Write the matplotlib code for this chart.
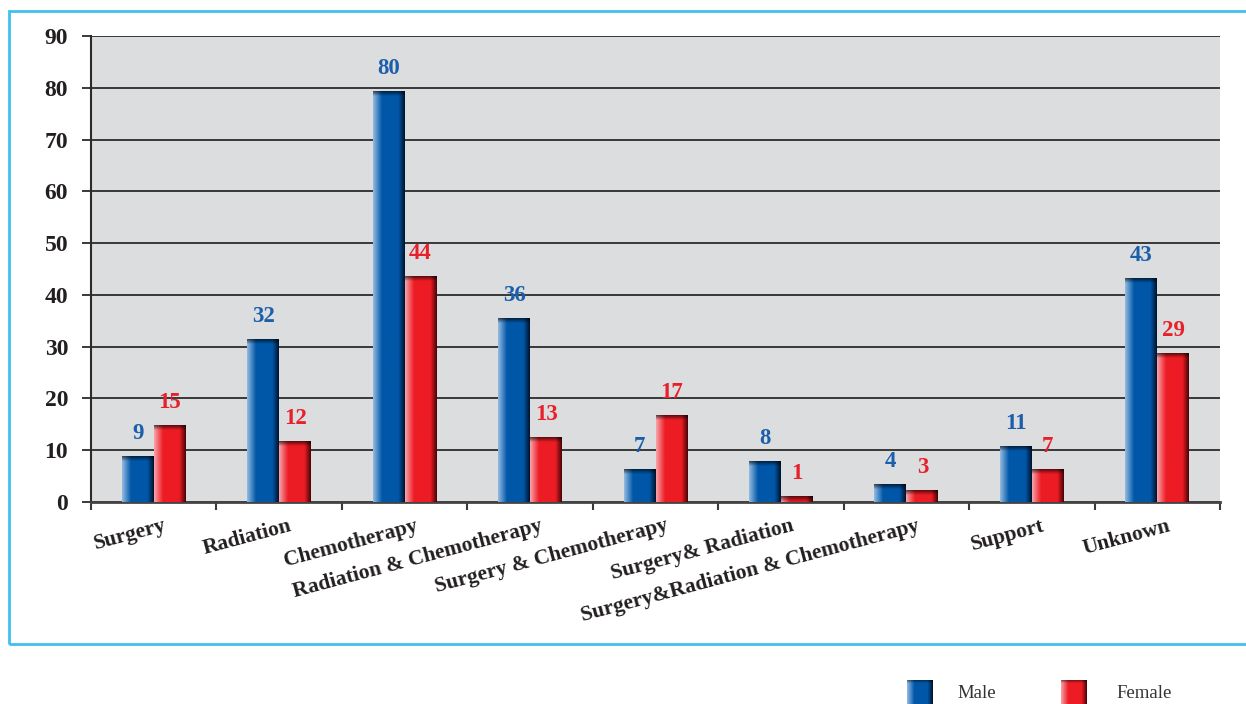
import numpy as np
import matplotlib.pyplot as plt
from matplotlib.colors import to_rgb
from matplotlib.patches import Rectangle
from matplotlib.transforms import ScaledTranslation

# data
categories = ["Surgery", "Radiation", "Chemotherapy", "Radiation & Chemotherapy",
              "Surgery & Chemotherapy", "Surgery& Radiation",
              "Surgery&Radiation & Chemotherapy", "Support", "Unknown"]
male = [8.7, 31.3, 79.2, 35.5, 6.2, 7.9, 3.3, 10.8, 43.1]
female = [14.7, 11.6, 43.6, 12.5, 16.8, 1.0, 2.3, 6.2, 28.6]
male_labels = ["9", "32", "80", "36", "7", "8", "4", "11", "43"]
female_labels = ["15", "12", "44", "13", "17", "1", "3", "7", "29"]
yticks = [0, 10, 20, 30, 40, 50, 60, 70, 80, 90]

SERIF = "Liberation Serif"
blue = ("#93bbe2", "#0057a8", "#00142e")
red = ("#f8a3aa", "#ed1c24", "#4a0407")


def shade_row(light, base, dark, n=64):
    stops = [0, 0.28, 0.8, 1.0]
    cols = np.array([to_rgb(light), to_rgb(base), to_rgb(base), to_rgb(dark)])
    t = np.linspace(0, 1, n)
    return np.stack([np.interp(t, stops, cols[:, k]) for k in range(3)], axis=-1)


def bar_image(colors, top_frac, nrows=300):
    row = shade_row(*colors)
    img = np.repeat(row[None, :, :], nrows, axis=0)
    t = (np.arange(nrows) + 0.5) / nrows
    fac = np.where(t < top_frac, 0.35 + 0.65 * (t / max(top_frac, 1e-6)), 1.0)
    return img * fac[:, None, None]


fig = plt.figure(figsize=(12.46, 7.04), dpi=100)
ax = fig.add_axes([91 / 1246, 1 - 502 / 704, (1220 - 91) / 1246, (502 - 36) / 704])
ax.set_facecolor("#dcdddf")

x = np.arange(len(categories))
w = 0.255
ax.set_xlim(-0.5, len(categories) - 0.5)
ax.set_ylim(0, 90)
px_per_unit = ax.transData.transform((0, 1))[1] - ax.transData.transform((0, 0))[1]

for vals, labs, off, cols, tcol in [(male, male_labels, -w / 2, blue, "#1b5fab"),
                                     (female, female_labels, w / 2, red, "#e8202a")]:
    bars = ax.bar(x + off, vals, w, color="none", zorder=2)
    for b, lab in zip(bars, labs):
        h = b.get_height()
        frac = 5.0 / max(h * px_per_unit, 1)
        ax.imshow(bar_image(cols, frac), extent=(b.get_x(), b.get_x() + b.get_width(), 0, h),
                  aspect="auto", zorder=3, interpolation="bilinear")
        ax.annotate(lab, (b.get_x() + b.get_width() / 2, h), xytext=(0, 9),
                    textcoords="offset points", ha="center", va="bottom",
                    color=tcol, fontsize=16.5, fontweight="bold", family=SERIF)

ax.set_xlim(-0.5, len(categories) - 0.5)
ax.set_ylim(0, 90)

ax.set_yticks(yticks)
ax.set_yticklabels([str(v) for v in yticks], fontsize=17, fontweight="bold",
                   family=SERIF, color="#231f20")
ax.yaxis.grid(True, color="#2b2b2b", lw=1.3)
ax.set_axisbelow(True)
ax.tick_params(axis="y", direction="out", length=6.5, width=1.3, color="#2b2b2b", pad=10)

ax.set_xticks(np.arange(-0.5, len(categories)))
ax.set_xticklabels([])
ax.tick_params(axis="x", which="major", direction="out", length=6, width=1.5, color="#3a3a3a")
ax.set_xticks(x, minor=True)
ax.set_xticklabels(categories, minor=True, rotation=15, ha="right", rotation_mode="anchor",
                   fontsize=15.5, fontweight="bold", family=SERIF, color="#231f20")
ax.tick_params(axis="x", which="minor", length=0, pad=10)
shift = ScaledTranslation(7 / 72, 0, fig.dpi_scale_trans)
for lbl in ax.get_xticklabels(minor=True):
    lbl.set_transform(lbl.get_transform() + shift)

for s in ["top", "right"]:
    ax.spines[s].set_visible(False)
ax.spines["left"].set_color("#2b2b2b")
ax.spines["left"].set_linewidth(1.5)
ax.spines["bottom"].set_color("#444444")
ax.spines["bottom"].set_linewidth(2)

# light blue frame around the chart
fig.add_artist(Rectangle((9 / 1246, 1 - 644 / 704), 1.05, (644 - 11) / 704,
                         transform=fig.transFigure, fill=False, ec="#3ec1ee", lw=2))

# legend drawn by hand below the frame
for lx, tx, name, cols in [(907, 957, "Male", blue), (1061, 1116, "Female", red)]:
    lax = fig.add_axes([lx / 1246, -2 / 704, 26 / 1246, 26 / 704])
    lax.imshow(bar_image(cols, 0.15), aspect="auto", interpolation="bilinear")
    lax.axis("off")
    fig.text(tx / 1246, 1 - 694 / 704, name, fontsize=13.5, family=SERIF,
             color="#333333", va="center", ha="left")

fig.savefig("out.png", dpi=100)
